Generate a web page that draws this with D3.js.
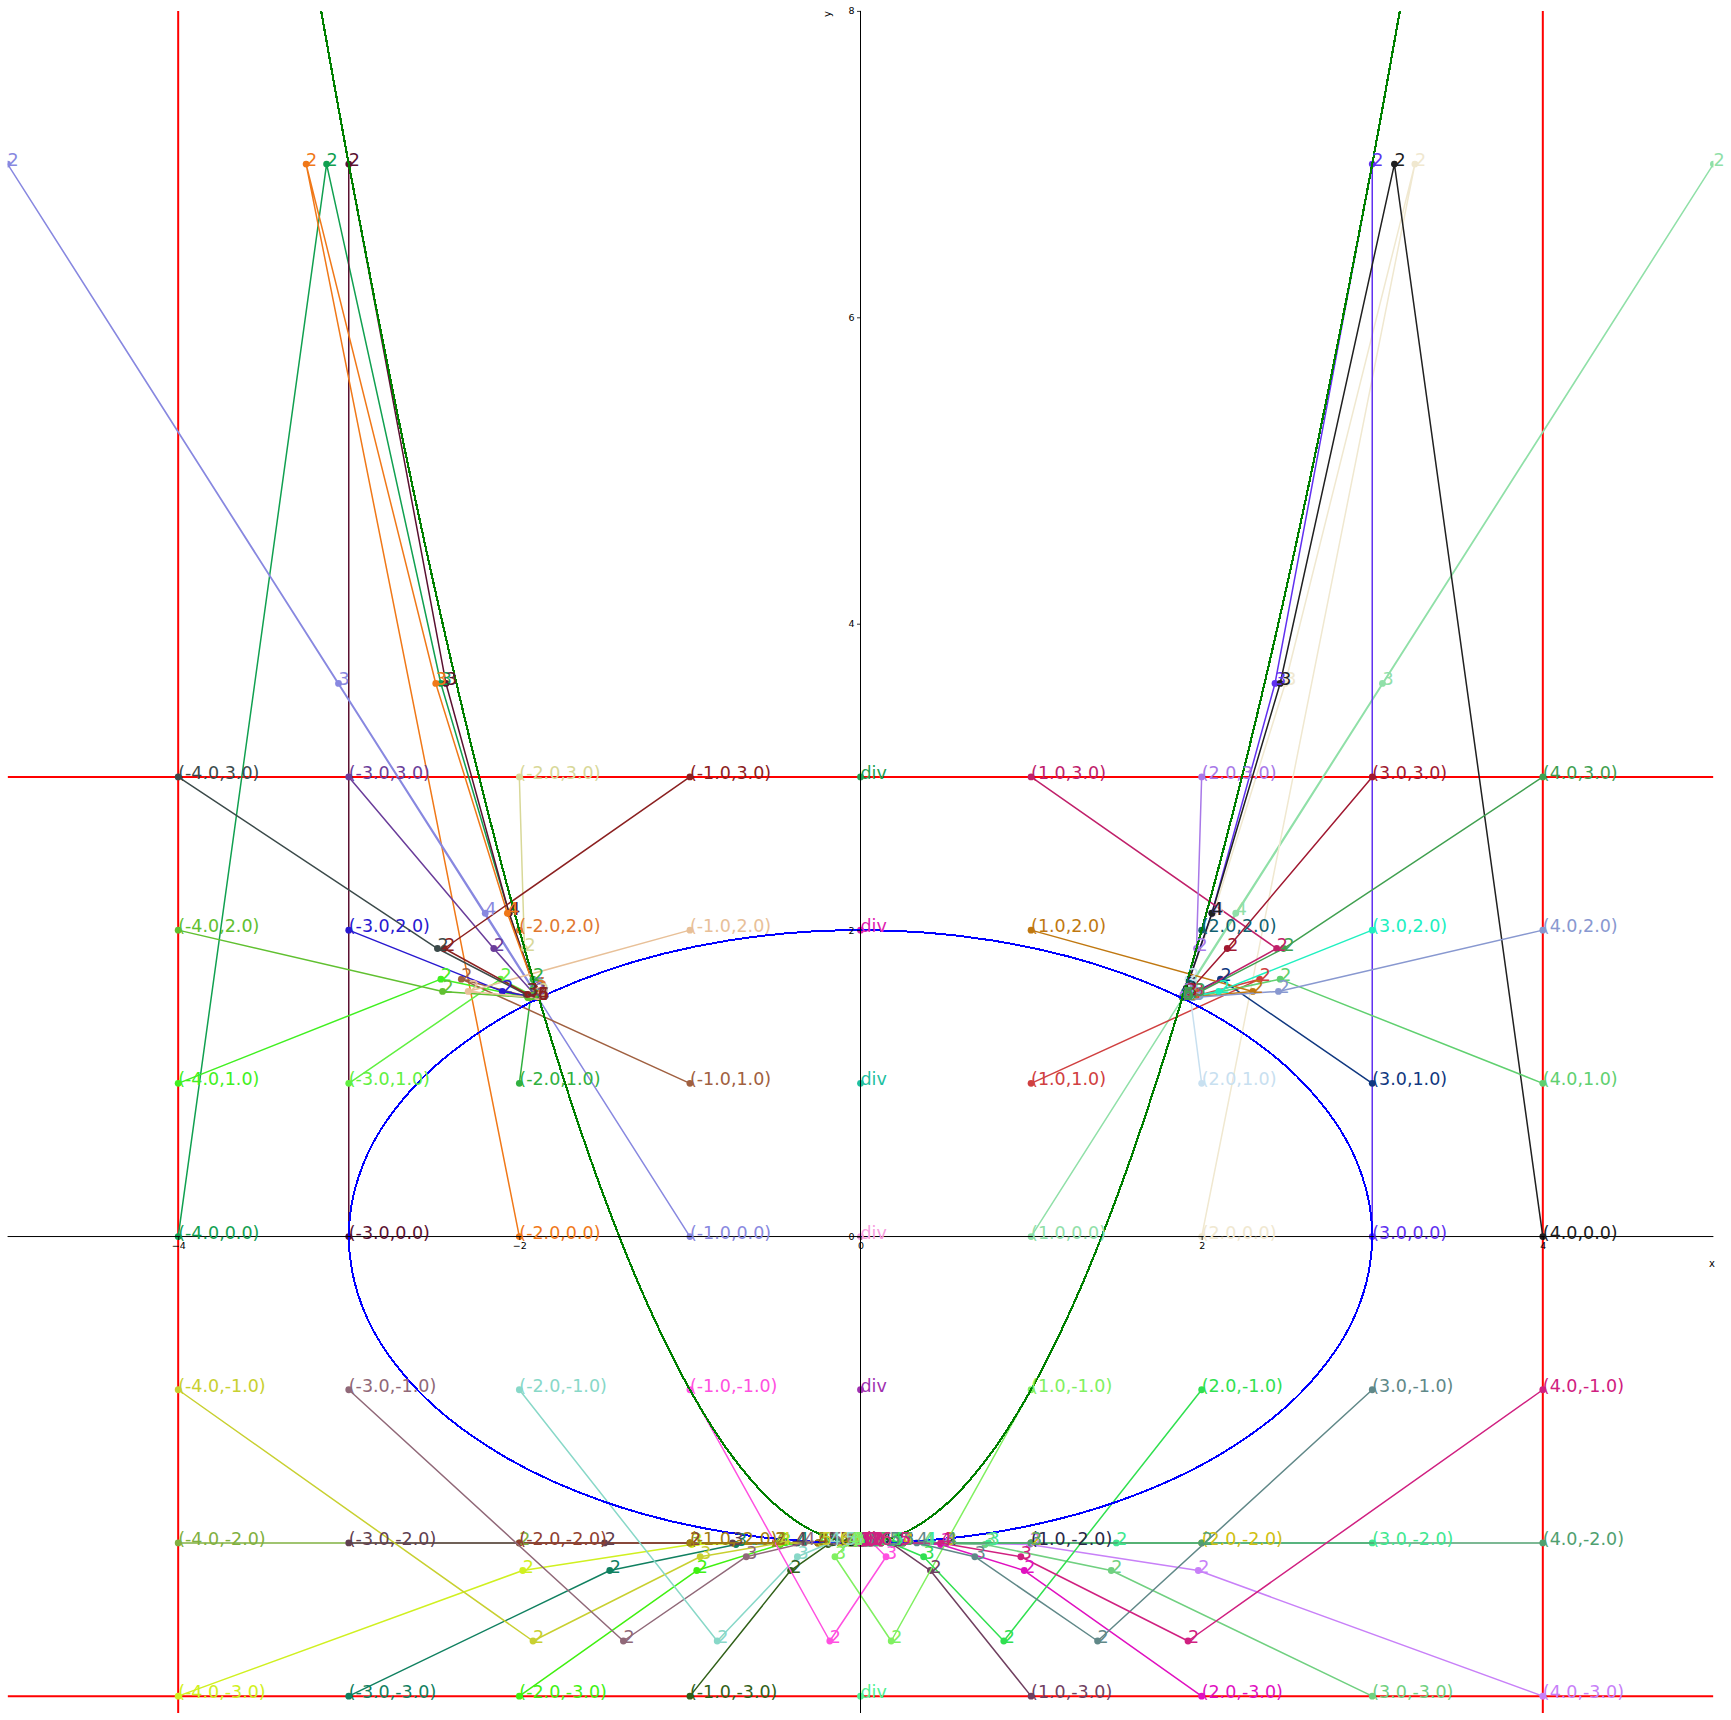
<!DOCTYPE html>
<html><head><meta charset="utf-8">
<script src="https://cdn.jsdelivr.net/npm/d3@7"></script>
<style>body{margin:0;background:#fff} svg{display:block} text{font-family:"DejaVu Sans",sans-serif}</style>
</head><body>
<script>
// ---- data ----
const gridX = [-4, -3, -2, -1, 0, 1, 2, 3, 4];
const gridY = [-3, -2, -1, 0, 1, 2, 3];
const xTicks = [-4, -2, 0, 2, 4];
const yTicks = [-2, 0, 2, 4, 6, 8];
const boundX = [-4, 4];
const boundY = [-3, 3];

// Ellipse x^2/9 + y^2/4 = 1 (sample points)
const ellipseX = [3, 2.898, 2.598, 2.121, 1.5, 0.776, 0, -0.776, -1.5, -2.121, -2.598, -2.898, -3, -2.898, -2.598, -2.121, -1.5, -0.776, 0, 0.776, 1.5, 2.121, 2.598, 2.898];
const ellipseY = [0, 0.518, 1, 1.414, 1.732, 1.932, 2, 1.932, 1.732, 1.414, 1, 0.518, 0, -0.518, -1, -1.414, -1.732, -1.932, -2, -1.932, -1.732, -1.414, -1, -0.518];
// Parabola y = x^2 - 2
const parabX = [-3.162, -3, -2.75, -2.5, -2.25, -2, -1.75, -1.5, -1.25, -1, -0.75, -0.5, -0.25, 0, 0.25, 0.5, 0.75, 1, 1.25, 1.5, 1.75, 2, 2.25, 2.5, 2.75, 3, 3.162];
const parabY = [8, 7, 5.5625, 4.25, 3.0625, 2, 1.0625, 0.25, -0.4375, -1, -1.4375, -1.75, -1.9375, -2, -1.9375, -1.75, -1.4375, -1, -0.4375, 0.25, 1.0625, 2, 3.0625, 4.25, 5.5625, 7, 8];

// Newton iterates for each start point (null = diverged / "div")
const iterates = {
 "-4,-3": [[-1.98,-2.18],[-0.99,-2.01],[-0.49,-2],[-0.25,-2],[-0.12,-2],[-0.06,-2],[-0.03,-2],[-0.02,-2],[-0.01,-2],[0,-2],[0,-2],[0,-2]],
 "-3,-3": [[-1.47,-2.18],[-0.73,-2.01],[-0.37,-2],[-0.18,-2],[-0.09,-2],[-0.05,-2],[-0.02,-2],[-0.01,-2],[-0.01,-2],[0,-2],[0,-2],[0,-2]],
 "-2,-3": [[-0.96,-2.18],[-0.47,-2.01],[-0.24,-2],[-0.12,-2],[-0.06,-2],[-0.03,-2],[-0.01,-2],[-0.01,-2],[0,-2],[0,-2],[0,-2]],
 "-1,-3": [[-0.41,-2.18],[-0.19,-2.01],[-0.1,-2],[-0.05,-2],[-0.02,-2],[-0.01,-2],[-0.01,-2],[0,-2],[0,-2],[0,-2]],
 "0,-3": null,
 "1,-3": [[0.41,-2.18],[0.19,-2.01],[0.1,-2],[0.05,-2],[0.02,-2],[0.01,-2],[0.01,-2],[0,-2],[0,-2],[0,-2]],
 "2,-3": [[0.96,-2.18],[0.47,-2.01],[0.24,-2],[0.12,-2],[0.06,-2],[0.03,-2],[0.01,-2],[0.01,-2],[0,-2],[0,-2],[0,-2]],
 "3,-3": [[1.47,-2.18],[0.73,-2.01],[0.37,-2],[0.18,-2],[0.09,-2],[0.05,-2],[0.02,-2],[0.01,-2],[0.01,-2],[0,-2],[0,-2],[0,-2]],
 "4,-3": [[1.98,-2.18],[0.99,-2.01],[0.49,-2],[0.25,-2],[0.12,-2],[0.06,-2],[0.03,-2],[0.02,-2],[0.01,-2],[0,-2],[0,-2],[0,-2]],

 "-4,-2": [[-2,-2],[-1,-2],[-0.5,-2],[-0.25,-2],[-0.12,-2],[-0.06,-2],[-0.03,-2],[-0.02,-2],[-0.01,-2],[0,-2],[0,-2],[0,-2]],
 "-3,-2": [[-1.5,-2],[-0.75,-2],[-0.38,-2],[-0.19,-2],[-0.09,-2],[-0.05,-2],[-0.02,-2],[-0.01,-2],[-0.01,-2],[0,-2],[0,-2],[0,-2]],
 "-2,-2": [[-1,-2],[-0.5,-2],[-0.25,-2],[-0.12,-2],[-0.06,-2],[-0.03,-2],[-0.02,-2],[-0.01,-2],[0,-2],[0,-2],[0,-2]],
 "-1,-2": [[-0.5,-2],[-0.25,-2],[-0.12,-2],[-0.06,-2],[-0.03,-2],[-0.02,-2],[-0.01,-2],[0,-2],[0,-2],[0,-2]],
 "0,-2": null,
 "1,-2": [[0.5,-2],[0.25,-2],[0.12,-2],[0.06,-2],[0.03,-2],[0.02,-2],[0.01,-2],[0,-2],[0,-2],[0,-2]],
 "2,-2": [[1,-2],[0.5,-2],[0.25,-2],[0.12,-2],[0.06,-2],[0.03,-2],[0.02,-2],[0.01,-2],[0,-2],[0,-2],[0,-2]],
 "3,-2": [[1.5,-2],[0.75,-2],[0.38,-2],[0.19,-2],[0.09,-2],[0.05,-2],[0.02,-2],[0.01,-2],[0.01,-2],[0,-2],[0,-2],[0,-2]],
 "4,-2": [[2,-2],[1,-2],[0.5,-2],[0.25,-2],[0.12,-2],[0.06,-2],[0.03,-2],[0.02,-2],[0.01,-2],[0,-2],[0,-2],[0,-2]],

 "-4,-1": [[-1.92,-2.64],[-0.94,-2.09],[-0.47,-2],[-0.23,-2],[-0.12,-2],[-0.06,-2],[-0.03,-2],[-0.01,-2],[-0.01,-2],[0,-2],[0,-2],[0,-2]],
 "-3,-1": [[-1.39,-2.64],[-0.67,-2.09],[-0.33,-2],[-0.17,-2],[-0.08,-2],[-0.04,-2],[-0.02,-2],[-0.01,-2],[-0.01,-2],[0,-2],[0,-2],[0,-2]],
 "-2,-1": [[-0.84,-2.64],[-0.37,-2.09],[-0.18,-2],[-0.09,-2],[-0.05,-2],[-0.02,-2],[-0.01,-2],[-0.01,-2],[0,-2],[0,-2],[0,-2]],
 "-1,-1": [[-0.18,-2.64],[0.15,-2.09],[0.07,-2],[0.03,-2],[0.02,-2],[0.01,-2],[0,-2],[0,-2],[0,-2],[0,-2]],
 "0,-1": null,
 "1,-1": [[0.18,-2.64],[-0.15,-2.09],[-0.07,-2],[-0.03,-2],[-0.02,-2],[-0.01,-2],[0,-2],[0,-2],[0,-2],[0,-2]],
 "2,-1": [[0.84,-2.64],[0.37,-2.09],[0.18,-2],[0.09,-2],[0.05,-2],[0.02,-2],[0.01,-2],[0.01,-2],[0,-2],[0,-2],[0,-2]],
 "3,-1": [[1.39,-2.64],[0.67,-2.09],[0.33,-2],[0.17,-2],[0.08,-2],[0.04,-2],[0.02,-2],[0.01,-2],[0.01,-2],[0,-2],[0,-2],[0,-2]],
 "4,-1": [[1.92,-2.64],[0.94,-2.09],[0.47,-2],[0.23,-2],[0.12,-2],[0.06,-2],[0.03,-2],[0.01,-2],[0.01,-2],[0,-2],[0,-2],[0,-2]],

 "-4,0": [[-3.13,7],[-2.46,3.61],[-2.06,2.11],[-1.91,1.62],[-1.89,1.56],[-1.89,1.56]],
 "-3,0": [[-3,7],[-2.43,3.61],[-2.06,2.11],[-1.91,1.62],[-1.89,1.56],[-1.89,1.56]],
 "-2,0": [[-3.25,7],[-2.49,3.61],[-2.07,2.11],[-1.91,1.62],[-1.89,1.56],[-1.89,1.56]],
 "-1,0": [[-5,7],[-3.06,3.61],[-2.2,2.11],[-1.92,1.62],[-1.89,1.56],[-1.89,1.56]],
 "0,0": null,
 "1,0": [[5,7],[3.06,3.61],[2.2,2.11],[1.92,1.62],[1.89,1.56],[1.89,1.56]],
 "2,0": [[3.25,7],[2.49,3.61],[2.07,2.11],[1.91,1.62],[1.89,1.56],[1.89,1.56]],
 "3,0": [[3,7],[2.43,3.61],[2.06,2.11],[1.91,1.62],[1.89,1.56],[1.89,1.56]],
 "4,0": [[3.13,7],[2.46,3.61],[2.06,2.11],[1.91,1.62],[1.89,1.56],[1.89,1.56]],

 "-4,1": [[-2.46,1.68],[-1.95,1.56],[-1.89,1.56],[-1.89,1.56],[-1.89,1.56]],
 "-3,1": [[-2.11,1.68],[-1.9,1.56],[-1.89,1.56],[-1.89,1.56]],
 "-2,1": [[-1.92,1.68],[-1.89,1.56],[-1.89,1.56],[-1.89,1.56]],
 "-1,1": [[-2.34,1.68],[-1.93,1.56],[-1.89,1.56],[-1.89,1.56]],
 "0,1": null,
 "1,1": [[2.34,1.68],[1.93,1.56],[1.89,1.56],[1.89,1.56]],
 "2,1": [[1.92,1.68],[1.89,1.56],[1.89,1.56],[1.89,1.56]],
 "3,1": [[2.11,1.68],[1.9,1.56],[1.89,1.56],[1.89,1.56]],
 "4,1": [[2.46,1.68],[1.95,1.56],[1.89,1.56],[1.89,1.56],[1.89,1.56]],

 "-4,2": [[-2.45,1.6],[-1.95,1.56],[-1.89,1.56],[-1.89,1.56],[-1.89,1.56]],
 "-3,2": [[-2.1,1.6],[-1.9,1.56],[-1.89,1.56],[-1.89,1.56]],
 "-2,2": [[-1.9,1.6],[-1.89,1.56],[-1.89,1.56]],
 "-1,2": [[-2.3,1.6],[-1.92,1.56],[-1.89,1.56],[-1.89,1.56]],
 "0,2": null,
 "1,2": [[2.3,1.6],[1.92,1.56],[1.89,1.56],[1.89,1.56]],
 "2,2": [[1.9,1.6],[1.89,1.56],[1.89,1.56]],
 "3,2": [[2.1,1.6],[1.9,1.56],[1.89,1.56],[1.89,1.56]],
 "4,2": [[2.45,1.6],[1.95,1.56],[1.89,1.56],[1.89,1.56],[1.89,1.56]],

 "-4,3": [[-2.48,1.88],[-1.96,1.58],[-1.89,1.56],[-1.89,1.56],[-1.89,1.56]],
 "-3,3": [[-2.15,1.88],[-1.91,1.58],[-1.89,1.56],[-1.89,1.56]],
 "-2,3": [[-1.97,1.88],[-1.89,1.58],[-1.89,1.56],[-1.89,1.56]],
 "-1,3": [[-2.44,1.88],[-1.95,1.58],[-1.89,1.56],[-1.89,1.56],[-1.89,1.56]],
 "0,3": null,
 "1,3": [[2.44,1.88],[1.95,1.58],[1.89,1.56],[1.89,1.56],[1.89,1.56]],
 "2,3": [[1.97,1.88],[1.89,1.58],[1.89,1.56],[1.89,1.56]],
 "3,3": [[2.15,1.88],[1.91,1.58],[1.89,1.56],[1.89,1.56]],
 "4,3": [[2.48,1.88],[1.96,1.58],[1.89,1.56],[1.89,1.56],[1.89,1.56]]
};

const pathColors = {
 "-4,-3":"#d0f020","-3,-3":"#108060","-2,-3":"#40f010","-1,-3":"#306018","0,-3":"#50f090","1,-3":"#704060","2,-3":"#e010c0","3,-3":"#70d080","4,-3":"#c880f8",
 "-4,-2":"#80b040","-3,-2":"#604050","-2,-2":"#904030","-1,-2":"#a08010","0,-2":"#b03060","1,-2":"#282848","2,-2":"#d0c010","3,-2":"#40e890","4,-2":"#50a070",
 "-4,-1":"#c8d030","-3,-1":"#906878","-2,-1":"#88d8c8","-1,-1":"#ff50e0","0,-1":"#a030b0","1,-1":"#80f060","2,-1":"#30e050","3,-1":"#608888","4,-1":"#d02080",
 "-4,0":"#10a050","-3,0":"#5a1030","-2,0":"#f07818","-1,0":"#8888e0","0,0":"#f8a0e0","1,0":"#90e0a8","2,0":"#f0e8d0","3,0":"#6030f0","4,0":"#202020",
 "-4,1":"#40f020","-3,1":"#60f040","-2,1":"#30b040","-1,1":"#a06040","0,1":"#20c0a0","1,1":"#d04040","2,1":"#c8e0f0","3,1":"#103880","4,1":"#60d070",
 "-4,2":"#60c030","-3,2":"#2818d0","-2,2":"#e07830","-1,2":"#e8c098","0,2":"#e020b0","1,2":"#c07810","2,2":"#106070","3,2":"#20f0c0","4,2":"#8898d0",
 "-4,3":"#3b4a4a","-3,3":"#6a3d9a","-2,3":"#d8d898","-1,3":"#8b2020","0,3":"#20a050","1,3":"#c0206a","2,3":"#a878e8","3,3":"#a01830","4,3":"#40a050"
};

// ---- drawing ----
const W = 1731, H = 1720;
const xDomain = [-5, 5], yDomain = [-3.11, 8];
const x = d3.scaleLinear().domain(xDomain).range([7.6, 1713.4]);
const y = d3.scaleLinear().domain(yDomain).range([1713, 10.9]);

const svg = d3.select("body").append("svg").attr("width", W).attr("height", H);
const defs = svg.append("defs");
defs.append("clipPath").attr("id", "clip").append("rect")
  .attr("x", x(xDomain[0])).attr("y", y(yDomain[1]))
  .attr("width", x(xDomain[1]) - x(xDomain[0])).attr("height", y(yDomain[0]) - y(yDomain[1]));

const plot = svg.append("g").attr("clip-path", "url(#clip)");

// spines at zero
svg.append("line").attr("x1", x(xDomain[0])).attr("x2", x(xDomain[1])).attr("y1", y(0)).attr("y2", y(0))
  .attr("stroke", "#000").attr("stroke-width", 1);
svg.append("line").attr("x1", x(0)).attr("x2", x(0)).attr("y1", y(yDomain[0])).attr("y2", y(yDomain[1]))
  .attr("stroke", "#000").attr("stroke-width", 1);

const fmtTick = d => (d < 0 ? "\u2212" + Math.abs(d) : String(d));
const xAxis = svg.append("g").attr("transform", `translate(0,${y(0)})`)
  .call(d3.axisBottom(x).tickValues(xTicks).tickSize(3.5).tickPadding(2.5).tickFormat(fmtTick));
const yAxis = svg.append("g").attr("transform", `translate(${x(0)},0)`)
  .call(d3.axisLeft(y).tickValues(yTicks).tickSize(3.5).tickPadding(2.5).tickFormat(fmtTick));
[xAxis, yAxis].forEach(g => {
  g.select(".domain").remove();
  g.selectAll("text").attr("font-family", "DejaVu Sans").attr("font-size", 9.5).attr("fill", "#000");
  g.selectAll("line").attr("stroke", "#000").attr("stroke-width", 0.8);
});
svg.append("text").attr("x", 1712).attr("y", 1263).attr("text-anchor", "middle")
  .attr("dominant-baseline", "central").attr("font-size", 10).text("x");
svg.append("text").attr("transform", "translate(827,14) rotate(-90)").attr("text-anchor", "middle")
  .attr("dominant-baseline", "central").attr("font-size", 10).text("y");

// red bounding lines
boundX.forEach(v => plot.append("line").attr("x1", x(v)).attr("x2", x(v))
  .attr("y1", y(yDomain[0])).attr("y2", y(yDomain[1])).attr("stroke", "#ff0000").attr("stroke-width", 2));
boundY.forEach(v => plot.append("line").attr("x1", x(xDomain[0])).attr("x2", x(xDomain[1]))
  .attr("y1", y(v)).attr("y2", y(v)).attr("stroke", "#ff0000").attr("stroke-width", 2));

// start points in drawing order
const starts = [];
gridY.forEach(gy => gridX.forEach(gx => starts.push([gx, gy])));

const line = d3.line().x(d => x(d[0])).y(d => y(d[1]));
const pathLayer = plot.append("g");
starts.forEach(([sx, sy]) => {
  const key = sx + "," + sy;
  const col = pathColors[key];
  const its = iterates[key];
  const pts = [[sx, sy]].concat(its || []);
  if (pts.length > 1) {
    pathLayer.append("path").attr("d", line(pts)).attr("fill", "none")
      .attr("stroke", col).attr("stroke-width", 1.5).attr("stroke-linejoin", "round");
  }
  pathLayer.selectAll(null).data(pts).enter().append("circle")
    .attr("cx", d => x(d[0])).attr("cy", d => y(d[1])).attr("r", 3.4).attr("fill", col);
});

// implicit curves (pixelated look like an implicit plot)
const ellipsePts = ellipseX.map((v, i) => [v, ellipseY[i]]);
plot.append("path").attr("d", d3.line().x(d => x(d[0])).y(d => y(d[1])).curve(d3.curveCatmullRomClosed.alpha(0.5))(ellipsePts))
  .attr("fill", "none").attr("stroke", "#0000ff").attr("stroke-width", 2).attr("shape-rendering", "crispEdges");
const parabPts = parabX.map((v, i) => [v, parabY[i]]);
plot.append("path").attr("d", d3.line().x(d => x(d[0])).y(d => y(d[1])).curve(d3.curveCatmullRom.alpha(0.5))(parabPts))
  .attr("fill", "none").attr("stroke", "#008000").attr("stroke-width", 2.2).attr("shape-rendering", "crispEdges");

// labels
const textLayer = svg.append("g").attr("font-size", 17.5).attr("font-family", "DejaVu Sans");
starts.forEach(([sx, sy]) => {
  const key = sx + "," + sy;
  const col = pathColors[key];
  const its = iterates[key];
  const startLabel = its ? `(${sx.toFixed(1)},${sy.toFixed(1)})` : "div";
  textLayer.append("text").attr("x", x(sx)).attr("y", y(sy) + 2).attr("fill", col).text(startLabel);
  (its || []).forEach((p, i) => {
    textLayer.append("text").attr("x", x(p[0])).attr("y", y(p[1]) + 2).attr("fill", col).text(String(i + 2));
  });
});
</script></body></html>
